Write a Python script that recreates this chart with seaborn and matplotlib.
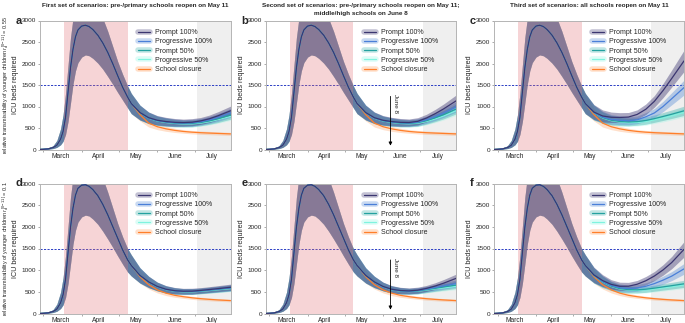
import matplotlib
matplotlib.use('Agg')
import matplotlib.pyplot as plt
import seaborn as sns
import numpy as np
import pandas as pd
from matplotlib.lines import Line2D

sns.set_style('white')
plt.rcParams['font.family'] = ['Liberation Sans', 'DejaVu Sans']
plt.rcParams['mathtext.fontset'] = 'custom'
plt.rcParams['mathtext.rm'] = 'Liberation Sans'
plt.rcParams['mathtext.it'] = 'Liberation Sans:italic'

# ---- data (days counted from March 1) ----
scenarios = ['Prompt 100%', 'Progressive 100%', 'Prompt 50%', 'Progressive 50%', 'School closure']
line_colors = ['#3b3670', '#4a7fd8', '#23a19f', '#7ff3df', '#ff7f2a']
band_colors = ['#3a3470', '#4f86d4', '#34aea8', '#8ff6e4', '#ff9a55']
band_alpha = [0.42, 0.38, 0.38, 0.3, 0.3]

month_labels = ['March', 'April', 'May', 'June', 'July']
month_mid = [14, 45, 75, 106, 136]
month_start = [0, 31, 61, 92, 122]

# epidemic before May 11, shared by every scenario of a row
early_days = [-3, 0, 4, 8, 11, 14, 16, 18, 20, 22, 24, 26, 28, 31, 34, 37, 40, 44, 48, 52, 56, 60, 64, 68]
early_mid_055 = [0, 4, 14, 45, 100, 240, 420, 750, 1330, 1900, 2330, 2620, 2780, 2870, 2890, 2860, 2790, 2660, 2480, 2260, 2000, 1720, 1450, 1220]
early_lo_055 = [0, 2, 7, 22, 50, 110, 190, 350, 650, 1080, 1520, 1830, 2020, 2150, 2200, 2180, 2120, 2010, 1870, 1700, 1520, 1330, 1150, 970]
early_hi_055 = [0, 8, 28, 90, 210, 480, 800, 1300, 1950, 2600, 3050, 3350, 3500, 3600, 3620, 3580, 3480, 3300, 3050, 2750, 2400, 2050, 1750, 1480]
early_mid_01 = [0, 4, 14, 46, 102, 248, 435, 790, 1400, 1990, 2430, 2730, 2890, 2960, 2970, 2935, 2860, 2720, 2520, 2280, 2010, 1740, 1470, 1240]
early_lo_01 = [0, 2, 7, 23, 52, 115, 200, 370, 690, 1140, 1600, 1920, 2110, 2230, 2270, 2250, 2180, 2060, 1900, 1720, 1530, 1330, 1140, 960]
early_hi_01 = [0, 8, 28, 92, 215, 490, 820, 1330, 2000, 2680, 3150, 3450, 3600, 3700, 3720, 3680, 3570, 3380, 3120, 2800, 2440, 2080, 1770, 1500]

# after reopening
late_days = [71, 78, 85, 92, 99, 106, 113, 120, 127, 134, 141, 151]
spread_open = [0.22, 0.2, 0.18, 0.16, 0.15, 0.14, 0.13, 0.13, 0.12, 0.12, 0.12, 0.12]
spread_closure = [0.22, 0.18, 0.15, 0.13, 0.12, 0.11, 0.1, 0.1, 0.1, 0.1, 0.1, 0.1]

closure_055 = [1070, 810, 615, 530, 480, 445, 420, 403, 391, 382, 374, 363]
closure_01 = [1110, 850, 665, 545, 470, 420, 388, 362, 342, 326, 313, 298]

a_prompt100 = [1070, 860, 740, 680, 650, 632, 626, 635, 665, 715, 785, 900]
a_prog100 = [1070, 858, 736, 674, 642, 622, 615, 621, 645, 688, 745, 850]
a_prompt50 = [1070, 856, 732, 668, 635, 613, 604, 607, 628, 665, 715, 800]
a_prog50 = [1070, 855, 729, 664, 629, 606, 595, 596, 614, 647, 695, 770]

b_prompt100 = [1070, 860, 740, 680, 650, 632, 628, 655, 730, 830, 945, 1130]
b_prog100 = [1070, 858, 736, 674, 642, 622, 617, 635, 690, 765, 850, 990]
b_prompt50 = [1070, 856, 732, 668, 635, 613, 606, 622, 668, 735, 810, 940]
b_prog50 = [1070, 855, 729, 664, 629, 606, 598, 610, 650, 710, 780, 900]

c_prompt100 = [1070, 870, 780, 750, 745, 755, 815, 935, 1120, 1370, 1650, 2060]
c_prog100 = [1070, 862, 755, 700, 680, 668, 690, 760, 850, 1000, 1180, 1440]
c_prompt50 = [1070, 858, 742, 680, 652, 640, 648, 675, 718, 768, 820, 900]
c_prog50 = [1070, 856, 735, 670, 640, 625, 628, 650, 688, 730, 780, 860]

d_prompt100 = [1110, 880, 730, 625, 560, 527, 514, 516, 533, 553, 574, 605]
d_prog100 = [1110, 879, 728, 622, 556, 522, 508, 509, 524, 543, 563, 592]
d_prompt50 = [1110, 878, 726, 620, 553, 519, 505, 505, 519, 537, 556, 585]
d_prog50 = [1110, 877, 725, 618, 551, 516, 501, 500, 513, 530, 548, 575]

e_prompt100 = [1110, 880, 730, 625, 560, 530, 522, 538, 578, 632, 700, 810]
e_prog100 = [1110, 879, 728, 622, 556, 525, 515, 527, 560, 598, 638, 690]
e_prompt50 = [1110, 878, 726, 620, 553, 521, 511, 520, 548, 580, 612, 655]
e_prog50 = [1110, 877, 725, 618, 551, 518, 507, 514, 539, 566, 592, 625]

f_prompt100 = [1110, 890, 760, 672, 628, 630, 675, 755, 865, 1005, 1175, 1480]
f_prog100 = [1110, 884, 742, 645, 592, 575, 590, 628, 690, 770, 862, 1030]
f_prompt50 = [1110, 880, 732, 632, 573, 551, 546, 560, 585, 614, 642, 685]
f_prog50 = [1110, 878, 728, 626, 565, 541, 535, 545, 566, 590, 615, 655]

titles = {
    'a': 'First set of scenarios: pre-/primary schools reopen on May 11',
    'b': 'Second set of scenarios: pre-/primary schools reopen on May 11;\nmiddle/high schools on June 8',
    'c': 'Third set of scenarios: all schools reopen on May 11',
}
title_y = {'a': 5, 'b': 9.5, 'c': 5}

panels = {
    'a': ('055', [a_prompt100, a_prog100, a_prompt50, a_prog50, closure_055]),
    'b': ('055', [b_prompt100, b_prog100, b_prompt50, b_prog50, closure_055]),
    'c': ('055', [c_prompt100, c_prog100, c_prompt50, c_prog50, closure_055]),
    'd': ('01', [d_prompt100, d_prog100, d_prompt50, d_prog50, closure_01]),
    'e': ('01', [e_prompt100, e_prog100, e_prompt50, e_prog50, closure_01]),
    'f': ('01', [f_prompt100, f_prog100, f_prompt50, f_prog50, closure_01]),
}
early = {
    '055': (early_mid_055, early_lo_055, early_hi_055),
    '01': (early_mid_01, early_lo_01, early_hi_01),
}

rows = []
for p, (row, series) in panels.items():
    e_mid, e_lo, e_hi = early[row]
    for scen, late in zip(scenarios, series):
        sp = spread_closure if scen == 'School closure' else spread_open
        lo = e_lo + [v * (1 - s) for v, s in zip(late, sp)]
        hi = e_hi + [v * (1 + s) for v, s in zip(late, sp)]
        for d, m, l, h in zip(early_days + late_days, e_mid + late, lo, hi):
            rows.append({'panel': p, 'scenario': scen, 'day': d, 'icu': m, 'lo': l, 'hi': h})
df = pd.DataFrame(rows)

# ---- figure ----
W, H = 685, 323
fig = plt.figure(figsize=(W / 100, H / 100), dpi=100)

boxes = {
    'a': (39.5, 230.5, 20.5, 149.5), 'b': (265.5, 456, 20.5, 149.5), 'c': (494, 684, 20.5, 149.5),
    'd': (39.5, 230.5, 183.5, 313.5), 'e': (265.5, 456, 183.5, 313.5), 'f': (494, 684, 183.5, 313.5),
}
draw_order = scenarios[::-1]
pal = dict(zip(scenarios, line_colors))
band_pal = dict(zip(scenarios, band_colors))
alpha_of = dict(zip(scenarios, band_alpha))

for p, (l, r, t, b) in boxes.items():
    ax = fig.add_axes([l / W, 1 - b / H, (r - l) / W, (b - t) / H])
    sub = df[df['panel'] == p]

    # lockdown shading sits over the bands, summer holidays behind them
    ax.axvspan(16.5, 68, color='#e2727a', alpha=0.3, lw=0, zorder=2.5)
    ax.axvspan(124, 151, color='#efefef', lw=0, zorder=0)
    ax.axhline(1500, color='#2c3fc4', ls=(0, (2.2, 1.4)), lw=0.7, zorder=1)

    for scen in draw_order:
        s = sub[sub['scenario'] == scen]
        ax.fill_between(s['day'], s['lo'], s['hi'], color=band_pal[scen], alpha=alpha_of[scen],
                        lw=0, zorder=2)
    sns.lineplot(data=sub, x='day', y='icu', hue='scenario', hue_order=draw_order,
                 palette=pal, lw=0.9, legend=False, errorbar=None, ax=ax, zorder=3)

    ax.set_xlim(-3, 151)
    ax.set_ylim(0, 3000)
    ax.set_yticks(range(0, 3001, 500))
    ax.set_xticks(month_mid)
    ax.set_xticklabels(month_labels)
    ax.set_xticks(month_start, minor=True)
    ax.tick_params(axis='x', which='major', length=0, labelsize=4.8, pad=2.5)
    ax.tick_params(axis='x', which='minor', length=1.5, width=0.5, color='#888888', bottom=True)
    ax.tick_params(axis='y', length=1.5, width=0.5, color='#888888', labelsize=4.6, pad=1, left=True)
    ax.set_xlabel('')
    ax.set_ylabel('ICU beds required', fontsize=5.2, labelpad=2)
    for sp in ax.spines.values():
        sp.set_color('#b4b4b4')
        sp.set_linewidth(0.7)

    handles = [(Line2D([], [], color=bc, lw=4, alpha=0.3), Line2D([], [], color=lc, lw=0.9))
               for lc, bc in zip(line_colors, band_colors)]
    leg = ax.legend(handles, scenarios, loc='upper left', bbox_to_anchor=(0.5, 0.955), frameon=False,
                    fontsize=5, handlelength=1.8, handletextpad=0.7, labelspacing=0.32, borderaxespad=0)
    leg.set_zorder(5)

    ax.text(-24 / (r - l), 1.0, p, transform=ax.transAxes, fontsize=8, fontweight='bold',
            ha='left', va='center')

    if p in ('b', 'e'):
        ax.annotate('', xy=(98, 25), xytext=(98, 1300),
                    arrowprops=dict(arrowstyle='-|>', color='black', lw=0.6, mutation_scale=5))
        ax.text(100, 1290, 'June 8', rotation=270, ha='left', va='top', fontsize=4.6)

    if p in titles:
        ax.text(0.5, 1.0 + (t - title_y[p]) / (b - t), titles[p], transform=ax.transAxes,
                ha='center', va='center', fontsize=4.6, fontweight='bold', linespacing=1.5)

fig.text(6 / W, 1 - 85 / H, r'relative transmissibility of younger children $r_a^{[0-11]}$ = 0.55',
         rotation=90, ha='center', va='center', fontsize=4)
fig.text(6 / W, 1 - 248.5 / H, r'relative transmissibility of younger children $r_a^{[0-11]}$ = 0.1',
         rotation=90, ha='center', va='center', fontsize=4)

fig.savefig('out.png', dpi=100)
